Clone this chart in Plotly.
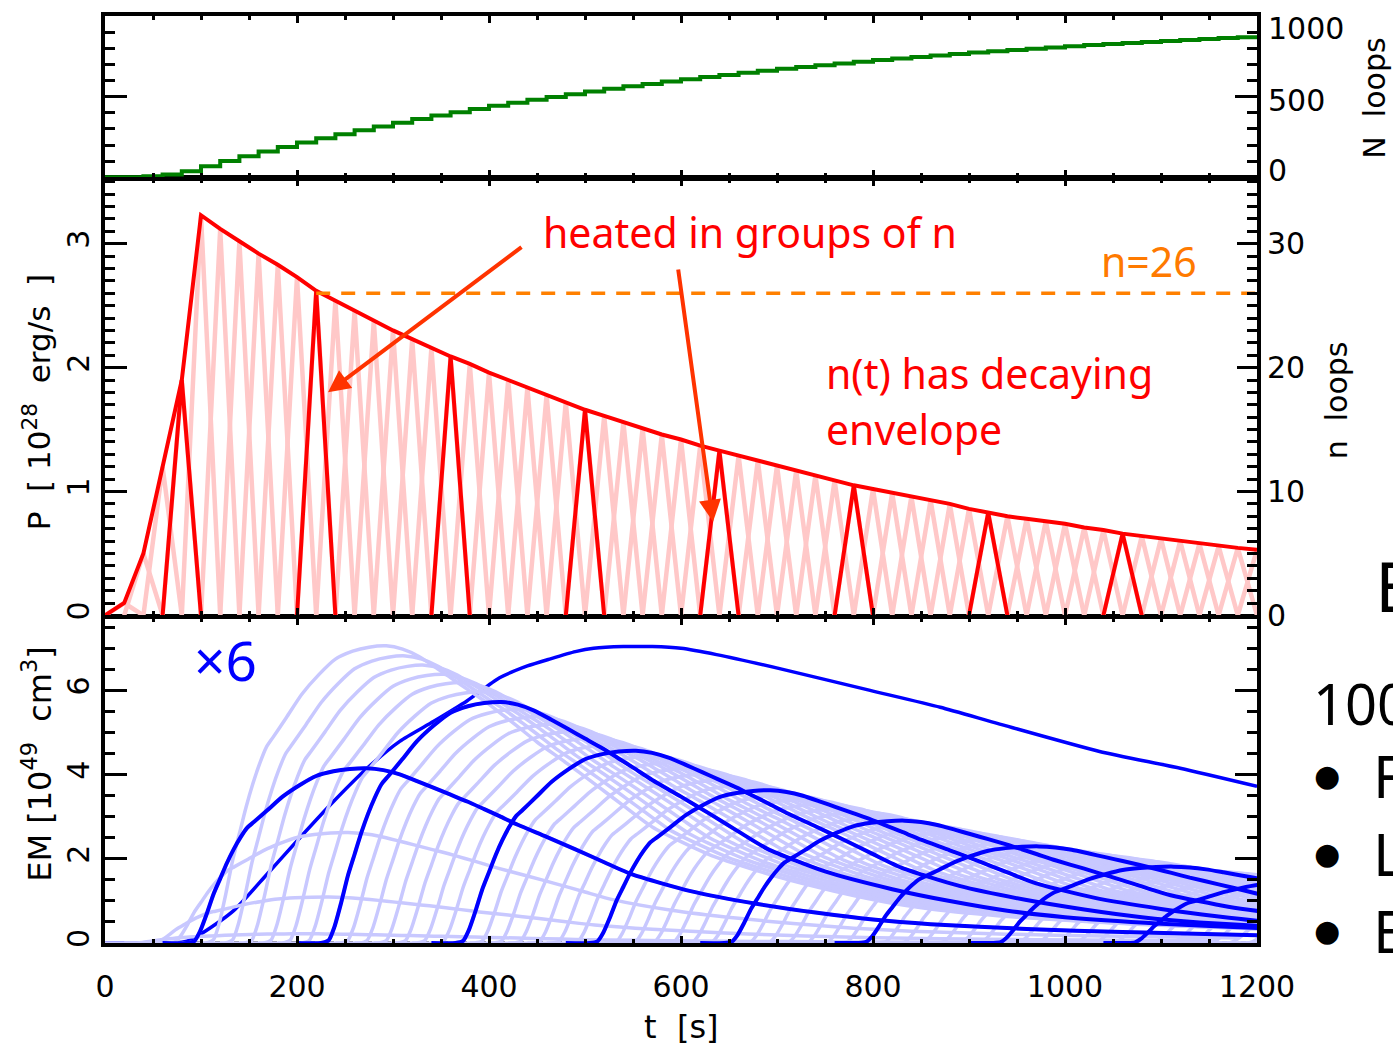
import numpy as np
import plotly.graph_objects as go

# ---------------- data ----------------
# heating groups: time of peak heating (s) and number of loops in the group
group_t = [0, 20, 40, 60, 80, 100, 120, 140, 160, 180, 200, 220, 240, 260, 280, 300,
           320, 340, 360, 380, 400, 420, 440, 460, 480, 500, 520, 540, 560, 580, 600,
           620, 640, 660, 680, 700, 720, 740, 760, 780, 800, 820, 840, 860, 880, 900,
           920, 940, 960, 980, 1000, 1020, 1040, 1060, 1080, 1100, 1120, 1140, 1160,
           1180, 1200]
group_n = [0, 1, 5, 12, 19, 32.3, 31.2, 30.2, 29.2, 28.3, 27.3, 26.2, 25.4, 24.6, 23.8, 23.0,
           22.3, 21.6, 20.9, 20.3, 19.6, 19.0, 18.4, 17.8, 17.2, 16.6, 16.1, 15.6, 15.1, 14.6, 14.2,
           13.7, 13.3, 12.9, 12.5, 12.1, 11.7, 11.3, 10.9, 10.5, 10.2, 9.9, 9.6, 9.3, 9.0, 8.6,
           8.3, 8.0, 7.8, 7.6, 7.4, 7.1, 6.9, 6.6, 6.4, 6.2, 6.0, 5.8, 5.6,
           5.45, 5.3]
highlight_t = [80, 220, 360, 500, 640, 780, 920, 1060]   # groups drawn bold
pulse_halfwidth = 20.0          # s, triangular heating pulse
power_per_loop = 0.1            # 10^28 erg/s per loop (left vs right axis)
n_marked = 26
n_marked_from = 220

# emission measure of the first highlighted group vs time since its start
em_ref_n = 20.5
em_ref_dt = [0, 25, 33, 39, 46, 53, 60, 67, 74, 81, 88, 95, 109, 125, 143, 160, 178,
             195, 213, 230, 247, 265, 282, 300, 318, 335, 351, 370, 400, 430, 460,
             490, 550, 620, 680, 740, 800, 900, 1000, 1140]
em_ref = [0, 0, 0.05, 0.3, 0.75, 1.25, 1.65, 2.05, 2.4, 2.7, 2.95, 3.1, 3.4, 3.75,
          4.05, 4.28, 4.4, 4.46, 4.48, 4.43, 4.32, 4.15, 3.98, 3.8, 3.62, 3.43, 3.25,
          3.03, 2.72, 2.4, 2.07, 1.75, 1.33, 1.0, 0.78, 0.6, 0.48, 0.36, 0.28, 0.2]

# total emission measure
total_t = [0, 60, 80, 90, 99, 134, 169, 203, 238, 273, 307, 342, 377, 411, 440, 464,
           490, 509, 540, 570, 600, 637, 706, 797, 870, 932, 1036, 1120, 1200]
total_em = [0, 0, 0.02, 0.08, 0.2, 0.77, 1.64, 2.5, 3.36, 4.15, 4.79, 5.26, 5.75, 6.3,
            6.58, 6.75, 6.92, 7.0, 7.04, 7.04, 7.0, 6.85, 6.5, 6.0, 5.6, 5.2, 4.55,
            4.15, 3.72]

x_ticks = [0, 200, 400, 600, 800, 1000, 1200]
N_ticks = [0, 500, 1000]

# ---------------- layout helpers ----------------
W, H = 1393, 1049
L, R, T, B = 105, 136, 12, 106
PW, PH = W - L - R, H - T - B


def px(x):
    return (x - L) / PW


def py(y):
    return (H - B - y) / PH


dom_bot = [0, py(617)]
dom_mid = [py(614), py(176)]
dom_top = [py(174), 1]

PINK = '#FFC8C8'
RED = '#FF0000'
LBLUE = '#C8C8FF'
BLUE = '#0000FF'
GREEN = '#008000'
ORANGE = '#FF8000'

fig = go.Figure()

# ---------------- top panel: cumulative N loops ----------------
N_cum = np.cumsum(group_n)
fig.add_trace(go.Scatter(x=group_t, y=N_cum, mode='lines', line=dict(color=GREEN, width=4, shape='hv'),
                         xaxis='x3', yaxis='y4', hoverinfo='skip'))

# ---------------- middle panel: power ----------------
tri_x, tri_y, bx, by = [], [], [], []
for t, n in zip(group_t, group_n):
    if n == 0:
        continue
    xs = [t - pulse_halfwidth, t, t + pulse_halfwidth, None]
    ys = [0, n * power_per_loop, 0, None]
    tri_x += xs
    tri_y += ys
    if t in highlight_t:
        bx += xs
        by += ys
fig.add_trace(go.Scatter(x=tri_x, y=tri_y, mode='lines', line=dict(color=PINK, width=4.5),
                         xaxis='x2', yaxis='y2', hoverinfo='skip'))
fig.add_trace(go.Scatter(x=bx, y=by, mode='lines', line=dict(color=RED, width=4),
                         xaxis='x2', yaxis='y2', hoverinfo='skip'))
fig.add_trace(go.Scatter(x=group_t, y=[n * power_per_loop for n in group_n], mode='lines',
                         line=dict(color=RED, width=4), xaxis='x2', yaxis='y2', hoverinfo='skip'))
fig.add_trace(go.Scatter(x=[n_marked_from, 1200], y=[n_marked, n_marked], mode='lines',
                         line=dict(color=ORANGE, width=3.5, dash='14px,11px'),
                         xaxis='x2', yaxis='y3', hoverinfo='skip'))

# ---------------- bottom panel: emission measure ----------------
fig.add_trace(go.Scatter(x=[75, 1200], y=[0, 0], mode='lines',
                         line=dict(color='black', width=3, dash='5px,14px'),
                         xaxis='x', yaxis='y', hoverinfo='skip'))
fig.add_trace(go.Scatter(x=total_t, y=total_em, mode='lines',
                         line=dict(color=BLUE, width=3.5, shape='spline', smoothing=0.6),
                         xaxis='x', yaxis='y', hoverinfo='skip'))
prof = np.array(em_ref) / em_ref_n
dt = np.array(em_ref_dt, dtype=float)
lx, ly, hx, hy = [], [], [], []
for t, n in zip(group_t, group_n):
    if n == 0:
        continue
    xs = list(t - pulse_halfwidth + dt) + [None]
    ys = list(n * prof) + [None]
    lx += xs
    ly += ys
    if t in highlight_t:
        hx += xs
        hy += ys
fig.add_trace(go.Scatter(x=lx, y=ly, mode='lines', line=dict(color=LBLUE, width=3.5, shape='spline', smoothing=0.6),
                         xaxis='x', yaxis='y', hoverinfo='skip'))
fig.add_trace(go.Scatter(x=hx, y=hy, mode='lines', line=dict(color=BLUE, width=4, shape='spline', smoothing=0.6),
                         xaxis='x', yaxis='y', hoverinfo='skip'))

# ---------------- axes ----------------
TFAM = 'DejaVu Sans ExtraLight, DejaVu Sans, sans-serif'
TICKFONT = dict(family=TFAM, size=30, color='black')
base = dict(showline=True, linecolor='black', linewidth=4, ticks='inside', tickcolor='black',
            tickwidth=3, showgrid=False, zeroline=False, tickfont=TICKFONT)
xminor = dict(dtick=50, ticklen=4, tickwidth=3, ticks='inside', tickcolor='black')

fig.update_layout(
    width=W, height=H, margin=dict(l=L, r=R, t=T, b=B),
    paper_bgcolor='white', plot_bgcolor='white', showlegend=False,
    xaxis=dict(base, anchor='y', domain=[0, 1], range=[0, 1200], tickvals=x_ticks, ticklen=7,
               minor=xminor, mirror='ticks', ticklabelstandoff=14),
    xaxis2=dict(base, anchor='y2', matches='x', range=[0, 1200], tickvals=x_ticks, ticklen=7,
                minor=xminor, mirror='ticks', showticklabels=False),
    xaxis3=dict(base, anchor='y4', matches='x', range=[0, 1200], tickvals=x_ticks, ticklen=7,
                minor=xminor, mirror='ticks', showticklabels=False),
    yaxis=dict(base, anchor='x', domain=dom_bot, range=[0, 7.71], tickvals=[0, 2, 4, 6],
               ticklen=22, minor=dict(dtick=0.5, ticklen=10, tickwidth=3, ticks='inside', tickcolor='black'),
               mirror='ticks', tickangle=-90),
    yaxis2=dict(base, anchor='x2', domain=dom_mid, range=[0, 3.52], tickvals=[0, 1, 2, 3],
                ticklen=22, minor=dict(dtick=0.1, ticklen=10, tickwidth=3, ticks='inside', tickcolor='black'),
                tickangle=-90),
    yaxis3=dict(base, anchor='x2', overlaying='y2', side='right', range=[0, 35.2],
                tickvals=[0, 10, 20, 30], ticklen=20,
                minor=dict(dtick=1, ticklen=10, tickwidth=3, ticks='inside', tickcolor='black')),
    yaxis4=dict(base, anchor='x3', domain=dom_top, side='right', range=[0, 1000],
                tickvals=N_ticks, ticklen=22, showticklabels=False,
                minor=dict(dtick=100, ticklen=10, tickwidth=3, ticks='inside', tickcolor='black'),
                mirror='ticks'),
)

# ---------------- text ----------------
SLF = 'Noto Sans, sans-serif'
ann = []


def txt(text, x, y, size, color, family=SLF, angle=0, xanchor='left'):
    ann.append(dict(text=text, x=px(x), y=py(y), xref='paper', yref='paper', showarrow=False,
                    xanchor=xanchor, yanchor='middle', textangle=angle,
                    font=dict(family=family, size=size, color=color)))


# top-panel right tick labels (placed like the original, inside the panel height)
for val, ypix in zip(N_ticks, [167, 97, 25]):
    txt(str(val), 1266, ypix, 30, 'black', TFAM)

txt('P&nbsp;&nbsp;[&nbsp;10<sup>28</sup>&nbsp;&nbsp;erg/s&nbsp;&nbsp;]', 37, 400, 31, 'black', TFAM, -90, 'center')
txt('EM&nbsp;[10<sup>49</sup>&nbsp;&nbsp;cm<sup>3</sup>]', 37, 763, 32, 'black', TFAM, -90, 'center')
txt('t&nbsp;&nbsp;[s]', 681, 1027, 32, 'black', TFAM, 0, 'center')
txt('n&nbsp;&nbsp;loops', 1336, 398, 30, 'black', TFAM, -90, 'center')
txt('N&nbsp;&nbsp;loops', 1375, 95, 30, 'black', TFAM, -90, 'center')

txt('heated in groups of n', 541, 229, 41, RED)
txt('n=26', 1099, 258, 41, '#FF7A00')
txt('n(t) has decaying', 824, 371, 41, RED)
txt('envelope', 824, 427, 41, RED)
txt('×6', 192, 658, 55, BLUE)

txt('E', 1373, 583, 70, 'black')
txt('100', 1311, 702, 56, 'black')
for yy, letter in [(775, 'F'), (853, 'L'), (930, 'E')]:
    txt('●', 1327, yy, 30, 'black', 'DejaVu Sans, sans-serif', 0, 'center')
    txt(letter, 1371, yy, 58, 'black')


def p_t(xpix):
    return (xpix - L) / PW * 1200


def p_P(ypix):
    return (614 - ypix) / (614 - 176) * 3.52


for (hxp, hyp), (txp, typ) in [((328, 390), (523, 243)), ((713, 520), (678, 265))]:
    ann.append(dict(x=p_t(hxp), y=p_P(hyp), ax=p_t(txp), ay=p_P(typ), xref='x2', yref='y2',
                    axref='x2', ayref='y2', text='', showarrow=True, arrowhead=2, arrowsize=1.1,
                    arrowwidth=4, arrowcolor='#FF3300'))

fig.update_layout(annotations=ann)
fig.write_html('out.html')
